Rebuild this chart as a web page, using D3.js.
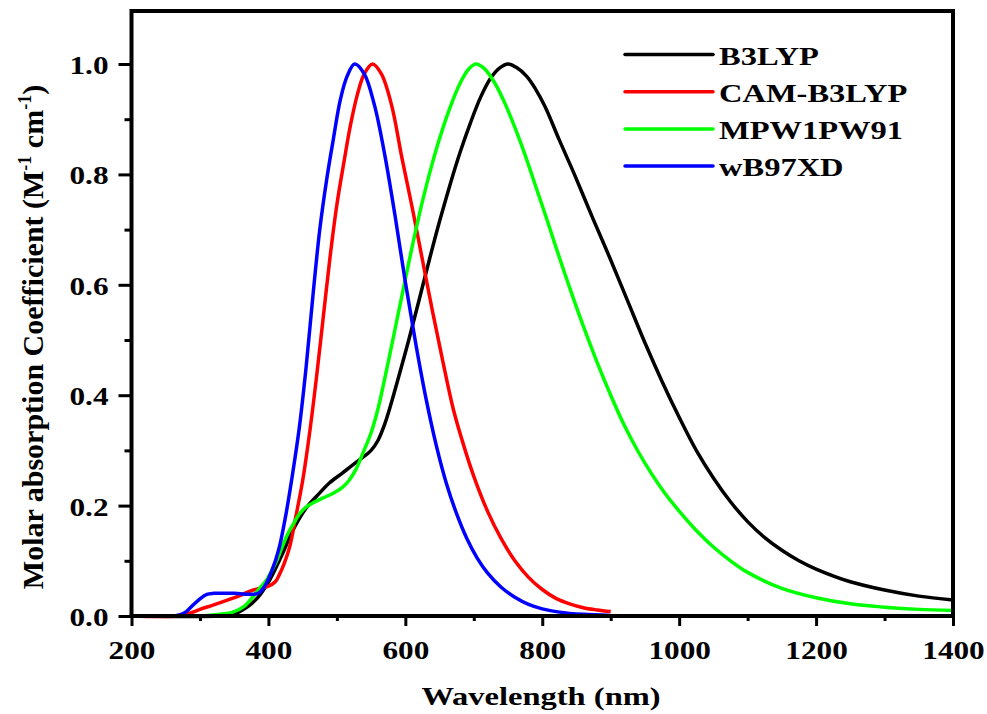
<!DOCTYPE html>
<html>
<head>
<meta charset="utf-8">
<script src="https://cdnjs.cloudflare.com/ajax/libs/d3/7.8.5/d3.min.js"></script>
<style>
  body { margin: 0; background: #fff; }
  svg { display: block; font-family: "Liberation Serif", "Times New Roman", serif; font-weight: bold; }
</style>
</head>
<body>
<svg width="987" height="714"></svg>
<script>
// ***********************************
// Data: [wavelength (nm), normalised absorption]

var b3lyp = [
  [200, 0], [330, 0], [343, 0.002], [355, 0.006], [365, 0.013], [375, 0.022], [385, 0.034],
  [397, 0.055], [406, 0.075], [421, 0.114], [436, 0.156], [456, 0.197], [475, 0.223],
  [489, 0.241], [508, 0.259], [530, 0.28], [550, 0.30], [560, 0.318], [570, 0.348],
  [580, 0.388], [590, 0.432], [605, 0.50], [620, 0.572], [635, 0.645], [650, 0.715],
  [665, 0.78], [680, 0.84], [695, 0.893], [710, 0.94], [725, 0.975], [738, 0.993], [750, 1.0],
  [762, 0.994], [777, 0.978], [790, 0.955], [804, 0.923], [825, 0.862], [847, 0.80],
  [874, 0.72], [900, 0.645], [925, 0.57], [950, 0.495], [975, 0.425], [1000, 0.36],
  [1025, 0.30], [1050, 0.25], [1075, 0.207], [1100, 0.171], [1125, 0.142], [1150, 0.119],
  [1175, 0.1], [1200, 0.085], [1250, 0.062], [1300, 0.047], [1350, 0.036], [1400, 0.029]
];

var camB3lyp = [
  [200, 0], [265, 0], [285, 0.005], [300, 0.012], [320, 0.02], [343, 0.03], [360, 0.038],
  [375, 0.046], [390, 0.051], [400, 0.054], [410, 0.062], [416, 0.075], [423, 0.095],
  [431, 0.125], [440, 0.18], [450, 0.245], [460, 0.33], [470, 0.43], [480, 0.54],
  [490, 0.65], [500, 0.745], [510, 0.82], [520, 0.89], [530, 0.945], [540, 0.982], [552, 1.0],
  [565, 0.982], [580, 0.925], [595, 0.83], [610, 0.74], [625, 0.645], [640, 0.55],
  [655, 0.46], [670, 0.375], [685, 0.31], [700, 0.253], [720, 0.19], [740, 0.14], [760, 0.1],
  [780, 0.07], [800, 0.048], [820, 0.032], [840, 0.022], [860, 0.015], [880, 0.011], [900, 0.008]
];

var mpw1pw91 = [
  [200, 0], [290, 0], [320, 0.002], [348, 0.007], [365, 0.018], [377, 0.034], [387, 0.05],
  [397, 0.065], [406, 0.085], [412, 0.1], [421, 0.128], [428, 0.148], [436, 0.166],
  [446, 0.186], [456, 0.198], [465, 0.205], [480, 0.214], [494, 0.222], [508, 0.233],
  [518, 0.246], [528, 0.266], [538, 0.295], [550, 0.332], [560, 0.375], [575, 0.46],
  [590, 0.55], [605, 0.64], [620, 0.725], [635, 0.80], [650, 0.865], [665, 0.92],
  [680, 0.965], [692, 0.99], [703, 1.0], [715, 0.992], [730, 0.967], [745, 0.93],
  [760, 0.885], [775, 0.835], [790, 0.78], [805, 0.725], [820, 0.668], [840, 0.595],
  [860, 0.525], [880, 0.46], [900, 0.40], [920, 0.345], [940, 0.298], [960, 0.257],
  [980, 0.221], [1000, 0.19], [1025, 0.155], [1050, 0.125], [1075, 0.1], [1100, 0.079],
  [1150, 0.05], [1200, 0.033], [1250, 0.022], [1300, 0.016], [1350, 0.012], [1400, 0.01]
];

var wb97xd = [
  [200, 0], [262, 0], [270, 0.002], [280, 0.008], [290, 0.02], [300, 0.031], [310, 0.039],
  [320, 0.041], [350, 0.041], [385, 0.041], [395, 0.055], [405, 0.082], [415, 0.12],
  [425, 0.18], [435, 0.255], [445, 0.34], [455, 0.45], [465, 0.58], [475, 0.70],
  [485, 0.79], [495, 0.865], [505, 0.935], [515, 0.978], [526, 1.0], [540, 0.982],
  [555, 0.925], [570, 0.835], [585, 0.725], [600, 0.605], [615, 0.495], [630, 0.395],
  [645, 0.31], [660, 0.24], [675, 0.185], [690, 0.14], [705, 0.105], [720, 0.078],
  [740, 0.052], [760, 0.034], [780, 0.021], [800, 0.013], [825, 0.007], [860, 0.003], [900, 0.001]
];

var seriesNames = ["B3LYP", "CAM-B3LYP", "MPW1PW91", "wB97XD"];
var seriesData = [b3lyp, camB3lyp, mpw1pw91, wb97xd];
var seriesColors = ["#000000", "#ff0000", "#00ff00", "#0000ff"];

var xMajorTicks = [200, 400, 600, 800, 1000, 1200, 1400];
var xMinorTicks = [300, 500, 700, 900, 1100, 1300];
var yMajorTicks = [0, 0.2, 0.4, 0.6, 0.8, 1.0];
var yMinorTicks = [0.1, 0.3, 0.5, 0.7, 0.9];

// ***********************************
// Set up the svg and scales

var svg = d3.select("svg");
var stretch = 1.25; // the picture's text is wide, so glyphs get stretched horizontally

var x = d3.scaleLinear().domain([200, 1400]).range([131.5, 953]);
var y = d3.scaleLinear().domain([0, 1]).range([616, 64]);
var yTop = y(1.096);

// Curves first, frame on top
var line = d3.line()
  .x(function(d) { return x(d[0]); })
  .y(function(d) { return y(d[1]); })
  .curve(d3.curveCatmullRom.alpha(0.5));

svg.append("g")
  .selectAll("path")
  .data(seriesData)
  .enter().append("path")
  .attr("d", line)
  .attr("fill", "none")
  .attr("stroke", function(d, i) { return seriesColors[i]; })
  .attr("stroke-width", 3.5)
  .attr("stroke-linejoin", "round");

// Frame
svg.append("rect")
  .attr("x", x(200))
  .attr("y", yTop)
  .attr("width", x(1400) - x(200))
  .attr("height", y(0) - yTop)
  .attr("fill", "none")
  .attr("stroke", "#000")
  .attr("stroke-width", 4);

// ***********************************
// Axes (ticks outside, bottom and left only)

var xAxis = svg.append("g")
  .attr("transform", "translate(0," + y(0) + ")")
  .call(d3.axisBottom(x).tickValues(xMajorTicks).tickSize(10).tickPadding(15).tickFormat(d3.format("d")));
var xMinor = svg.append("g")
  .attr("transform", "translate(0," + y(0) + ")")
  .call(d3.axisBottom(x).tickValues(xMinorTicks).tickSize(5).tickFormat(""));

var yAxis = svg.append("g")
  .attr("transform", "translate(" + x(200) + ",0)")
  .call(d3.axisLeft(y).tickValues(yMajorTicks).tickSize(13).tickFormat(d3.format(".1f")));
var yMinor = svg.append("g")
  .attr("transform", "translate(" + x(200) + ",0)")
  .call(d3.axisLeft(y).tickValues(yMinorTicks).tickSize(7).tickFormat(""));

[xAxis, xMinor, yAxis, yMinor].forEach(function(g) {
  g.select(".domain").remove();
  g.selectAll("line").attr("stroke-width", 3);
});

xAxis.selectAll("text")
  .attr("font-size", 25)
  .attr("font-family", "Liberation Serif, serif")
  .attr("font-weight", "bold")
  .attr("fill", "#000")
  .attr("transform", "scale(" + stretch + ",1)");

yAxis.selectAll("text")
  .attr("font-size", 25)
  .attr("font-family", "Liberation Serif, serif")
  .attr("font-weight", "bold")
  .attr("fill", "#000")
  .attr("x", -23 / stretch)
  .attr("dy", "0.38em")
  .attr("transform", "scale(" + stretch + ",1)");

// ***********************************
// Axis titles

svg.append("g")
  .attr("transform", "translate(541,705) scale(" + stretch + ",1)")
  .append("text")
  .attr("text-anchor", "middle")
  .attr("font-size", 26)
  .text("Wavelength (nm)");

var yTitle = svg.append("text")
  .attr("transform", "translate(43,337) rotate(-90)")
  .attr("text-anchor", "middle")
  .attr("font-size", 30);
yTitle.append("tspan").text("Molar absorption Coefficient (M");
yTitle.append("tspan").attr("font-size", 18).attr("dy", -12).text("-1");
yTitle.append("tspan").attr("dy", 12).text(" cm");
yTitle.append("tspan").attr("font-size", 18).attr("dy", -12).text("-1");
yTitle.append("tspan").attr("dy", 12).text(")");

// ***********************************
// Legend

var legend = svg.append("g")
  .selectAll("g")
  .data(seriesNames)
  .enter().append("g")
  .attr("transform", function(d, i) { return "translate(0," + (54.5 + i * 37.2) + ")"; });

legend.append("line")
  .attr("x1", 625).attr("x2", 713)
  .attr("stroke", function(d, i) { return seriesColors[i]; })
  .attr("stroke-width", 3.5)
  .attr("stroke-linecap", "round");

legend.append("g")
  .attr("transform", "translate(719,10) scale(" + stretch + ",1)")
  .append("text")
  .attr("font-size", 26)
  .text(function(d) { return d; });
</script>
</body>
</html>
